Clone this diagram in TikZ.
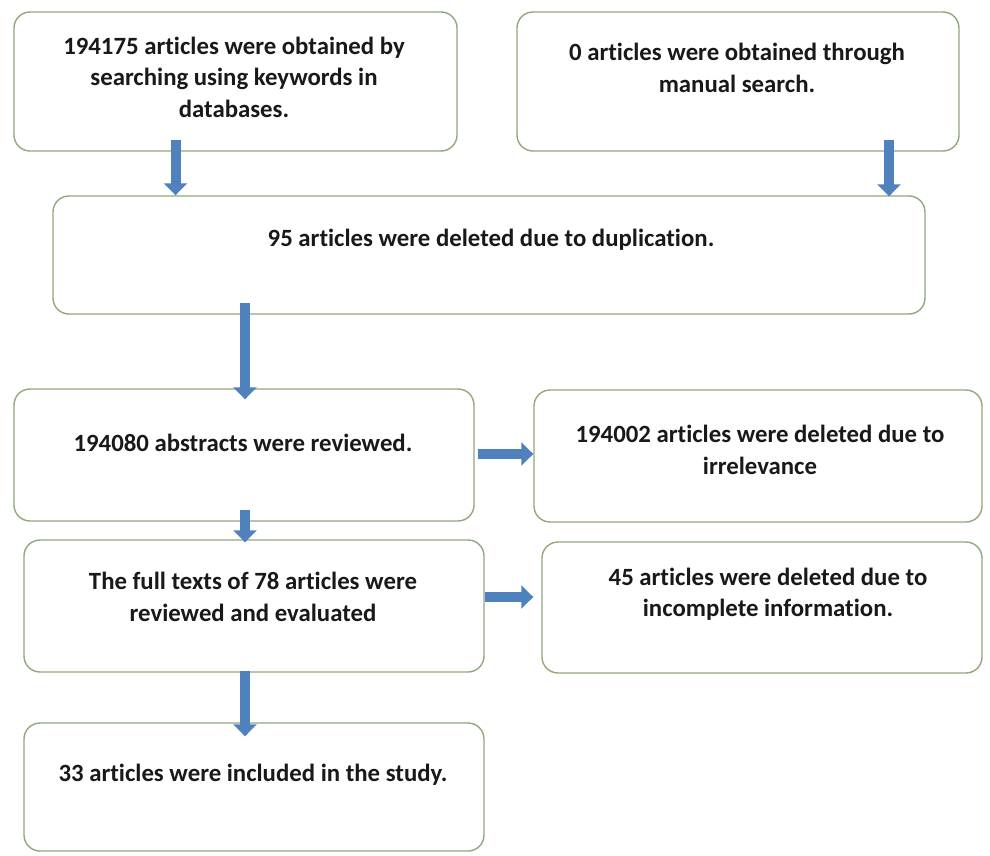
\documentclass[tikz,border=0pt]{standalone}
\usepackage{fontspec}
\setmainfont[Ligatures=NoCommon]{Carlito}
\usetikzlibrary{arrows.meta,calc}
\definecolor{boxline}{RGB}{145,168,122}
\definecolor{arrowblue}{RGB}{79,129,189}
\tikzset{
  flowbox/.style={draw=boxline, line width=1.4pt, rounded corners=16pt, fill=white, inner sep=0pt},
  boxtext/.style={align=center, font=\fontsize{24.8}{31.5}\selectfont\bfseries, text=black!90, inner sep=0pt},
  blockarrow/.style={draw=arrowblue, line width=10pt, -{Triangle[width=23pt,length=12pt]}}
}
\begin{document}
\begin{tikzpicture}[x=1pt,y=-1pt]
\useasboundingbox[fill=white] (0,0) rectangle (990,856);
% boxes
\node[flowbox, minimum width=443pt, minimum height=139pt] (A) at (235.5,81.5) {};
\node[flowbox, minimum width=442pt, minimum height=139pt] (B) at (738,81.5) {};
\node[flowbox, minimum width=872pt, minimum height=118pt] (C) at (489,255) {};
\node[flowbox, minimum width=460pt, minimum height=132pt] (D) at (244,455) {};
\node[flowbox, minimum width=460pt, minimum height=132pt] (E) at (254,606) {};
\node[flowbox, minimum width=460pt, minimum height=128pt] (F) at (254,787) {};
\node[flowbox, minimum width=448pt, minimum height=132pt] (G) at (758,456) {};
\node[flowbox, minimum width=440pt, minimum height=131pt] (H) at (762,607.5) {};
% texts
\node[boxtext] (tA) at (234,77) {194175 articles were obtained by\\searching using keywords in\\databases.};
\node[boxtext] (tB) at (737,68) {0 articles were obtained through\\manual search.};
\node[boxtext] (tC) at (491,240) {95 articles were deleted due to duplication.};
\node[boxtext] (tD) at (243,443) {194080 abstracts were reviewed.};
\node[boxtext] (tE) at (253,597) {The full texts of 78 articles were\\reviewed and evaluated};
\node[boxtext] (tF) at (253,775) {33 articles were included in the study.};
\node[boxtext] (tG) at (760,450) {194002 articles were deleted due to\\irrelevance};
\node[boxtext] (tH) at (768,594) {45 articles were deleted due to\\incomplete information.};
% arrows
\coordinate (a1) at ($(A.south)+(-60,-12)$);
\draw[blockarrow] (a1) -- (a1 |- C.north);
\coordinate (b1) at ($(B.south)+(151,-12)$);
\draw[blockarrow] (b1) -- ($(b1 |- C.north)+(0,1)$);
\coordinate (c1) at ($(C.south)+(-244,-12)$);
\draw[blockarrow] (c1) -- ($(c1 |- D.north)+(0,11)$);
\coordinate (d1) at ($(D.south)+(1,-12)$);
\draw[blockarrow] (d1) -- ($(d1 |- E.north)+(0,3)$);
\coordinate (e1) at ($(E.south)+(-9,-2)$);
\draw[blockarrow] (e1) -- ($(e1 |- F.north)+(0,14)$);
\coordinate (d2) at ($(D.east)+(3,-1)$);
\draw[blockarrow] (d2) -- (d2 -| G.west);
\coordinate (e2) at ($(E.east)+(0,-9)$);
\draw[blockarrow] (e2) -- ($(e2 -| H.west)+(-8,0)$);
\end{tikzpicture}
\end{document}
